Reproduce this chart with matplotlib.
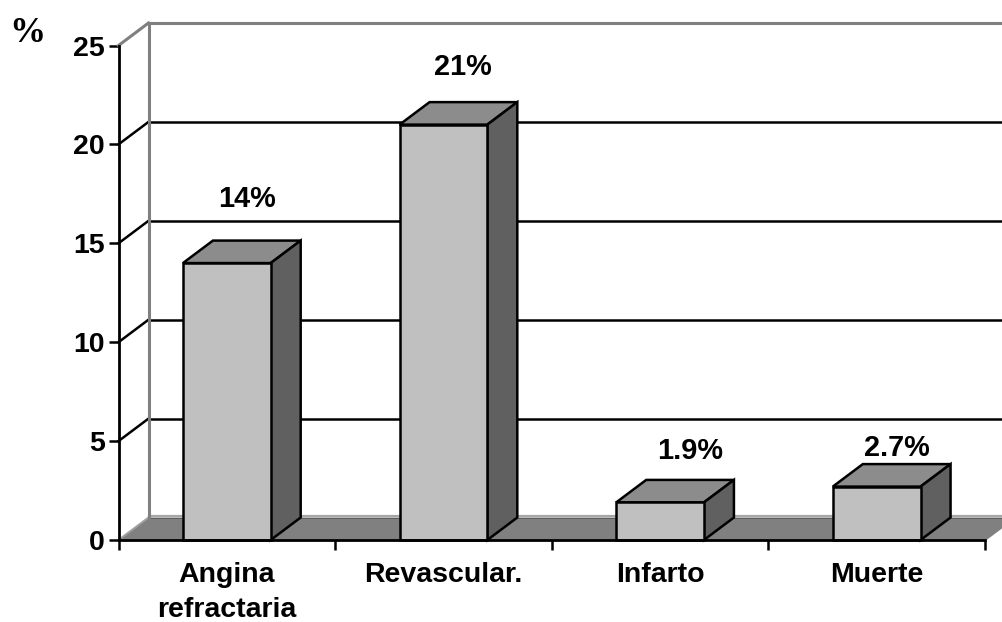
import matplotlib
matplotlib.use('Agg')
import matplotlib.pyplot as plt
from matplotlib.patches import Polygon

categories = ['Angina\nrefractaria', 'Revascular.', 'Infarto', 'Muerte']
values = [14, 21, 1.9, 2.7]
value_labels = ['14%', '21%', '1.9%', '2.7%']
y_ticks = [0, 5, 10, 15, 20, 25]

# offset of each value label from the front top centre of its bar, in points
label_dx = [14.5, 14, 21.5, 14.5]
label_dy = [36, 31.5, 27, 17.5]

W, H = 1002, 622
plt.rcParams['font.family'] = ['Liberation Sans', 'DejaVu Sans']

fig = plt.figure(figsize=(W / 100, H / 100), dpi=100, facecolor='white')
ax = fig.add_axes([118.5 / W, (H - 540) / H, (985 - 118.5) / W, (540 - 45.5) / H])
ax.set_xlim(0, 4)
ax.set_ylim(0, 25)
ax.patch.set_visible(False)

# 3d depth in data units
dx = 30 / 216.6
dy = 22.5 / 19.78
bar_w = 0.405
xmax = 4.3

# floor
ax.add_patch(Polygon([(0, 0), (dx, dy), (xmax, dy), (4 + dx, dy), (4, 0)],
                     facecolor='#808080', edgecolor='none', zorder=1, clip_on=False))
ax.plot([dx, xmax], [dy + 0.06, dy + 0.06], color='#a6a6a6', lw=1.6, zorder=1.2, clip_on=False)
ax.plot([dx, xmax], [dy - 0.03, dy - 0.03], color='#5c5c5c', lw=0.7, zorder=1.2, clip_on=False)
ax.plot([0, dx], [0, dy], color='#a0a0a0', lw=1.4, zorder=1.3, clip_on=False)
ax.plot([4, 4 + dx], [0, dy], color='#808080', lw=1.4, zorder=1.3, clip_on=False)

# back wall grid
for v in y_ticks[1:]:
    c = '#808080' if v == 25 else 'black'
    w = 2.2 if v == 25 else 1.8
    ax.plot([0, dx], [v, v + dy], color=c, lw=w, zorder=2, clip_on=False)
    ax.plot([dx, xmax], [v + dy, v + dy], color=c, lw=w, zorder=2, clip_on=False)
ax.plot([dx, dx], [dy, 25 + dy], color='#808080', lw=2.2, zorder=2.5, clip_on=False)

# bars
for i, v in enumerate(values):
    x0 = i + 0.5 - bar_w / 2
    x1 = i + 0.5 + bar_w / 2
    ax.add_patch(Polygon([(x0, v), (x1, v), (x1 + dx, v + dy), (x0 + dx, v + dy)],
                         facecolor='#8c8c8c', edgecolor='black', lw=1.8, zorder=3,
                         joinstyle='miter', clip_on=False))
    ax.add_patch(Polygon([(x1, 0), (x1 + dx, dy), (x1 + dx, v + dy), (x1, v)],
                         facecolor='#606060', edgecolor='black', lw=1.8, zorder=3,
                         joinstyle='miter', clip_on=False))
    ax.add_patch(Polygon([(x0, 0), (x1, 0), (x1, v), (x0, v)],
                         facecolor='#c0c0c0', edgecolor='black', lw=1.8, zorder=4,
                         joinstyle='miter', clip_on=False))
    ax.annotate(value_labels[i], (i + 0.5, v), xytext=(label_dx[i], label_dy[i]),
                textcoords='offset points', ha='center', va='bottom',
                fontsize=20.8, fontweight='bold', zorder=6, annotation_clip=False)

for s in ['top', 'right']:
    ax.spines[s].set_visible(False)
for s in ['left', 'bottom']:
    ax.spines[s].set_linewidth(2)
    ax.spines[s].set_zorder(5)

ax.set_yticks(y_ticks)
ax.tick_params(axis='y', length=7, width=1.8, pad=3, labelsize=20.5)
for t in ax.get_yticklabels():
    t.set_fontweight('bold')

ax.set_xticks(range(5))
ax.set_xticklabels([])
ax.tick_params(axis='x', which='major', length=7, width=1.8)
ax.set_xticks([i + 0.5 for i in range(4)], minor=True)
ax.set_xticklabels(categories, minor=True, fontsize=20.5, fontweight='bold', linespacing=1.45)
ax.tick_params(axis='x', which='minor', length=0, pad=15.5)

fig.text(27 / W, 1 - 33 / H, '%', family=['Liberation Serif', 'DejaVu Serif'], fontsize=26,
         fontweight='bold', ha='center', va='center')

fig.savefig('out.png', dpi=100)
